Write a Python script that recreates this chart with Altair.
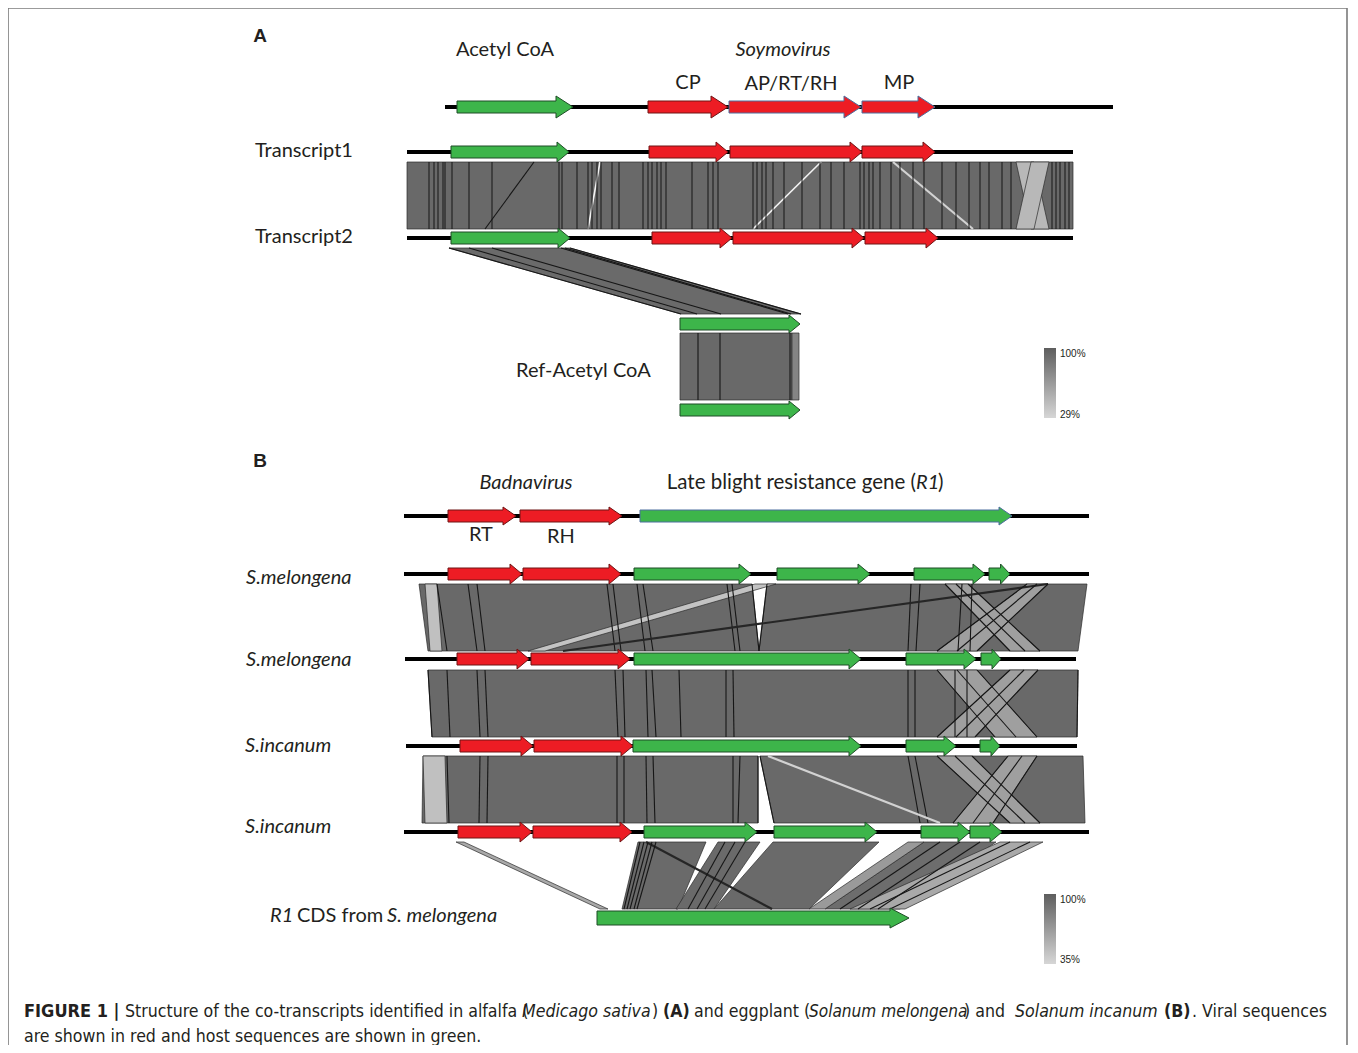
import altair as alt
import pandas as pd

# ======================= data =======================
# track names and their rows
TRACK_NAMES = ["A_ref", "T1", "T2", "RefTop", "RefBot", "B_ref", "M1", "M2", "I1", "I2", "R1"]
TRACK_ROWS = [107, 152, 238, 324, 410, 516, 574, 659, 746, 832, 918]

# sequence backbones
BACKBONE_TRACK = ["A_ref", "T1", "T2", "B_ref", "M1", "M2", "I1", "I2"]
BACKBONE_START = [445, 407, 407, 404, 404, 405, 406, 404]
BACKBONE_END = [1113, 1073, 1073, 1089, 1089, 1076, 1077, 1089]

# genes (ORFs)
GENE_TRACK = (["A_ref"] * 4 + ["T1"] * 4 + ["T2"] * 4 + ["RefTop", "RefBot"] + ["B_ref"] * 3
              + ["M1"] * 6 + ["M2"] * 5 + ["I1"] * 5 + ["I2"] * 6 + ["R1"])
GENE_START = [457, 648, 729, 862, 451, 649, 730, 862, 451, 652, 733, 865, 680, 680,
              448, 520, 640, 448, 523, 634, 777, 914, 989, 457, 531, 634, 906, 981,
              460, 534, 633, 906, 980, 458, 533, 644, 774, 921, 970, 597]
GENE_END = [573, 728, 861, 935, 569, 728, 862, 935, 570, 732, 864, 938, 800, 800,
            516, 622, 1012, 522, 621, 751, 870, 985, 1010, 529, 630, 861, 976, 1001,
            533, 633, 861, 956, 1000, 532, 632, 757, 877, 970, 1002, 909]
GENE_KIND = (["host", "viral", "viral", "viral"] * 3 + ["host", "host"]
             + ["viral", "viral", "host"]
             + ["viral", "viral", "host", "host", "host", "host"]
             + ["viral", "viral", "host", "host", "host"]
             + ["viral", "viral", "host", "host", "host"]
             + ["viral", "viral", "host", "host", "host", "host"]
             + ["host"])

# pairwise comparisons (upper track -> lower track)
CMP_NAMES = ["T1T2", "T2Ref", "RefA", "M1M2", "M2I1", "I1I2", "I2R1"]

# alignment hits: comparison, upper start/end, lower start/end, identity (%)
HIT_CMP = (["T1T2"] * 3 + ["T2Ref"] + ["RefA"] * 2 + ["M1M2"] * 6 + ["M2I1"] * 3
           + ["I1I2"] * 5 + ["I2R1"] * 7)
HIT_TOP0 = [407, 1016, 1031, 449, 680, 792, 419, 767, 425, 755, 945, 1027,
            428, 937, 1010, 423, 760, 423, 937, 1008,
            456, 638, 718, 773, 908, 924, 1000]
HIT_TOP1 = [1073, 1034, 1049, 570, 792, 799, 752, 1087, 437, 776, 968, 1048,
            1078, 977, 1038, 758, 1083, 445, 972, 1037,
            464, 706, 760, 879, 924, 996, 1043]
HIT_BOT0 = [407, 1031, 1016, 681, 680, 792, 428, 759, 430, 528, 1010, 937,
            432, 995, 937, 422, 774, 425, 1010, 953,
            600, 622, 676, 714, 809, 825, 850]
HIT_BOT1 = [1073, 1049, 1034, 801, 792, 799, 759, 1078, 442, 545, 1040, 977,
            1077, 1037, 975, 758, 1085, 447, 1040, 993,
            608, 678, 714, 809, 825, 900, 905]
HIT_IDENT = [98, 45, 45, 97, 98, 80, 98, 98, 40, 38, 62, 62,
             98, 62, 62, 98, 98, 40, 62, 62,
             55, 97, 97, 97, 65, 95, 55]

# mismatch / boundary lines inside the hits: comparison, upper x, lower x, kind
T1T2_BREAKS = [429, 434, 438, 443, 445, 452, 469, 492, 559, 562, 577, 588, 592, 597, 601,
               612, 619, 643, 648, 652, 657, 661, 666, 692, 708, 713, 718, 753, 757, 762,
               766, 773, 784, 802, 820, 831, 844, 860, 864, 869, 873, 880, 891, 900, 913,
               924, 942, 956, 969, 980, 989, 1002, 1011, 1052, 1056, 1060, 1065, 1069]
SEG_CMP = (["T1T2"] * 4 + ["T2Ref"] * 6 + ["RefA"] * 3 + ["M1M2"] * 22 + ["M2I1"] * 22
           + ["I1I2"] * 20 + ["I2R1"] * 14)
SEG_TOP = [534, 600, 821, 893,
           449, 469, 492, 561, 565, 570,
           698, 720, 790,
           437, 468, 477, 607, 613, 637, 643, 727, 732, 911, 920, 962, 972, 752, 767, 1048,
           945, 956, 968, 1027, 1037, 1048,
           447, 477, 485, 615, 623, 646, 652, 679, 726, 733, 908, 915, 955, 967, 428, 1078,
           937, 957, 977, 1010, 1024, 1038,
           447, 480, 488, 617, 624, 646, 653, 733, 740, 908, 915, 758, 760, 768,
           937, 955, 972, 1008, 1022, 1037,
           646, 640, 644, 648, 652, 656, 725, 735, 745, 940, 960, 980, 1010, 1030]
SEG_BOT = [485, 588, 753, 973,
           681, 697, 721, 788, 791, 801,
           698, 720, 790,
           447, 477, 485, 615, 621, 645, 653, 735, 740, 908, 916, 958, 970, 759, 759, 563,
           1010, 1025, 1040, 937, 957, 977,
           450, 480, 488, 618, 625, 648, 656, 681, 726, 734, 908, 915, 955, 967, 432, 1077,
           995, 1016, 1037, 937, 956, 975,
           449, 479, 487, 617, 624, 647, 655, 733, 738, 920, 928, 758, 774, 940,
           1010, 1025, 1040, 953, 973, 993,
           772, 624, 627, 630, 634, 637, 688, 697, 705, 840, 858, 878, 870, 890]
SEG_KIND = (["dark", "white", "white", "light"] + ["dark"] * 6 + ["dark"] * 3
            + ["dark"] * 15 + ["thick"] + ["dark"] * 6
            + ["dark"] * 16 + ["dark"] * 6
            + ["dark"] * 13 + ["light"] + ["dark"] * 6
            + ["thick"] + ["dark"] * 13)

# identity colour-bars
BAR_MAX = ["100%", "100%"]
BAR_MIN = ["29%", "35%"]

# ============================ layout / style ============================
W, H = 1340, 1037
XS = alt.Scale(domain=[8, 8 + W], nice=False, zero=False)
YS = alt.Scale(domain=[8, 8 + H], nice=False, zero=False, reverse=True)
ROW = dict(zip(TRACK_NAMES, TRACK_ROWS))
CMP_Y = dict(zip(CMP_NAMES, [(162, 229), (248, 314), (333, 400), (584, 651),
                             (670, 737), (756, 823), (842, 909)]))
# arrow geometry per track: shaft half height, head half height, head length
ARROW_GEOM = {"A_ref": (6, 11, 17), "T1": (6, 10, 12), "T2": (6, 10, 12),
              "RefTop": (6, 9, 11), "RefBot": (6, 9, 11), "B_ref": (6, 9, 13),
              "M1": (6, 10, 12), "M2": (6, 10, 12), "I1": (6, 10, 12), "I2": (6, 10, 12),
              "R1": (7, 10, 19)}
FILL = {"viral": "#ed1c24", "host": "#3db54a"}
EDGE = {"viral": "#6e1414", "host": "#1f4d27"}
BLUE_EDGE = "#4d6e9e"
TXT = "#231f20"
LABEL_FONT = "Lato"
CAP_FONT = "Liberation Sans Narrow, DejaVu Sans Condensed, Roboto Condensed, Liberation Sans"


def xenc(f="x"):
    return alt.X(f"{f}:Q", scale=XS, axis=None)


def yenc(f="y"):
    return alt.Y(f"{f}:Q", scale=YS, axis=None)


def grey(ident):
    v = int(round(0x66 + (100 - ident) / 71.0 * (0xd0 - 0x66)))
    v = max(0, min(255, v))
    return "#%02x%02x%02x" % (v, v, v)


# ---------- polygons: alignment hits ----------
hit_rows = []
for i, c in enumerate(HIT_CMP):
    yt, yb = CMP_Y[c]
    pts = [(HIT_TOP0[i], yt), (HIT_TOP1[i], yt), (HIT_BOT1[i], yb), (HIT_BOT0[i], yb)]
    for k, (x, y) in enumerate(pts):
        hit_rows.append(dict(pid=f"h{i}", k=k, x=x, y=y, fill=grey(HIT_IDENT[i]),
                             stroke="#2b2b2b", sw=0.7, lvl=0 if HIT_IDENT[i] >= 90 else 1))
hits = pd.DataFrame(hit_rows)

# ---------- polygons: arrows ----------
arr_rows = []
for i, t in enumerate(GENE_TRACK):
    a, b, hl = ARROW_GEOM[t]
    s, e, yc = GENE_START[i], GENE_END[i], ROW[t]
    hl = min(hl, 0.45 * (e - s))
    hs = e - hl
    pts = [(s, yc - a), (hs, yc - a), (hs, yc - b), (e, yc), (hs, yc + b), (hs, yc + a), (s, yc + a)]
    kind = GENE_KIND[i]
    edge = EDGE[kind]
    if (t == "A_ref" and s > 700) or (t == "B_ref" and kind == "host"):
        edge = BLUE_EDGE
    for k, (x, y) in enumerate(pts):
        arr_rows.append(dict(pid=f"g{i}", k=k, x=x, y=y, fill=FILL[kind], stroke=edge, sw=1.0))
arrows = pd.DataFrame(arr_rows)


def poly_layer(df):
    return alt.Chart(df).mark_line(interpolate="linear-closed", strokeJoin="miter").encode(
        x=xenc(), y=yenc(), order=alt.Order("k:Q"), detail="pid:N",
        fill=alt.Fill("fill:N", scale=None),
        stroke=alt.Stroke("stroke:N", scale=None),
        strokeWidth=alt.StrokeWidth("sw:Q", scale=None),
    )


# ---------- segments ----------
seg_rows = []
for c, xt, xb, kd in zip(SEG_CMP, SEG_TOP, SEG_BOT, SEG_KIND):
    yt, yb = CMP_Y[c]
    col, w = {"dark": ("#161616", 1.1), "white": ("#f2f2f2", 1.6),
              "light": ("#d2d2d2", 2.2), "thick": ("#262626", 2.2)}[kd]
    seg_rows.append(dict(x=xt, x2=xb, y=yt, y2=yb, col=col, w=w))
for x in T1T2_BREAKS:
    yt, yb = CMP_Y["T1T2"]
    seg_rows.append(dict(x=x, x2=x, y=yt, y2=yb, col="#161616", w=1.0))
segs = pd.DataFrame(seg_rows)

seg_layer = alt.Chart(segs).mark_rule().encode(
    x=xenc(), x2="x2:Q", y=yenc(), y2="y2:Q",
    color=alt.Color("col:N", scale=None), strokeWidth=alt.StrokeWidth("w:Q", scale=None))

# ---------- backbones ----------
bb = pd.DataFrame({"x": BACKBONE_START, "x2": BACKBONE_END,
                   "y": [ROW[t] for t in BACKBONE_TRACK]})
bb_layer = alt.Chart(bb).mark_rule(color="#000000", strokeWidth=4).encode(
    x=xenc(), x2="x2:Q", y=yenc())

# ---------- frame ----------
frame = pd.DataFrame({"x": [8, 8, 8 + W - 1], "x2": [8 + W - 1, 8, 8 + W - 1],
                      "y": [8, 8, 8], "y2": [8, 8 + H, 8 + H]})
frame_layer = alt.Chart(frame).mark_rule(color="#7a7a7a", strokeWidth=1.6).encode(
    x=xenc(), x2="x2:Q", y=yenc(), y2="y2:Q")

# ---------- identity bars ----------
bars = pd.DataFrame({"x": [1044, 1044], "x2": [1056, 1056], "y": [348, 894], "y2": [418, 964]})
grad = {"gradient": "linear", "x1": 0, "y1": 0, "x2": 0, "y2": 1,
        "stops": [{"offset": 0, "color": "#5e5e5e"}, {"offset": 1, "color": "#d6d6d6"}]}
bar_layer = alt.Chart(bars).mark_rect(fill=grad).encode(
    x=xenc(), x2="x2:Q", y=yenc(), y2="y2:Q")

# ---------- texts ----------
texts = [
    # text, x, y, font, size, style, weight, align
    ("A", 260, 36, "Liberation Sans", 19, "normal", "bold", "center"),
    ("B", 260, 461, "Liberation Sans", 19, "normal", "bold", "center"),
    ("Acetyl CoA", 505, 50, LABEL_FONT, 20, "normal", "normal", "center"),
    ("Soymovirus", 783, 50, LABEL_FONT, 20, "italic", "normal", "center"),
    ("CP", 688, 83, LABEL_FONT, 20, "normal", "normal", "center"),
    ("AP/RT/RH", 791, 84, LABEL_FONT, 20, "normal", "normal", "center"),
    ("MP", 899, 83, LABEL_FONT, 20, "normal", "normal", "center"),
    ("Transcript1", 255, 151, LABEL_FONT, 20, "normal", "normal", "left"),
    ("Transcript2", 255, 237, LABEL_FONT, 20, "normal", "normal", "left"),
    ("Ref-Acetyl CoA", 516, 371, LABEL_FONT, 20, "normal", "normal", "left"),
    ("Badnavirus", 526, 483, LABEL_FONT, 20, "italic", "normal", "center"),
    ("Late blight resistance gene (", 916, 483, LABEL_FONT, 20.5, "normal", "normal", "right"),
    ("R1", 916, 483, LABEL_FONT, 20, "italic", "normal", "left"),
    (")", 938, 483, LABEL_FONT, 20.5, "normal", "normal", "left"),
    ("RT", 481, 535, LABEL_FONT, 20, "normal", "normal", "center"),
    ("RH", 561, 537, LABEL_FONT, 20, "normal", "normal", "center"),
    ("S.melongena", 246, 578, LABEL_FONT, 20, "italic", "normal", "left"),
    ("S.melongena", 246, 660, LABEL_FONT, 20, "italic", "normal", "left"),
    ("S.incanum", 245, 746, LABEL_FONT, 20, "italic", "normal", "left"),
    ("S.incanum", 245, 827, LABEL_FONT, 20, "italic", "normal", "left"),
    ("R1", 270, 916, LABEL_FONT, 20, "italic", "normal", "left"),
    ("CDS from", 297, 916, LABEL_FONT, 20, "normal", "normal", "left"),
    ("S. melongena", 387, 916, LABEL_FONT, 20, "italic", "normal", "left"),
    (BAR_MAX[0], 1060, 354, "Liberation Sans", 10, "normal", "normal", "left"),
    (BAR_MIN[0], 1060, 415, "Liberation Sans", 10, "normal", "normal", "left"),
    (BAR_MAX[1], 1060, 900, "Liberation Sans", 10, "normal", "normal", "left"),
    (BAR_MIN[1], 1060, 960, "Liberation Sans", 10, "normal", "normal", "left"),
    # caption
    ("FIGURE 1 |", 24, 1012, CAP_FONT, 18, "normal", "bold", "left"),
    ("Structure of the co-transcripts identified in alfalfa (", 125, 1012, CAP_FONT, 17.6, "normal", "normal", "left"),
    ("Medicago sativa", 522, 1012, CAP_FONT, 17.6, "italic", "normal", "left"),
    (")", 652, 1012, CAP_FONT, 17.6, "normal", "normal", "left"),
    ("(A)", 663, 1012, CAP_FONT, 17.6, "normal", "bold", "left"),
    ("and eggplant (", 694, 1012, CAP_FONT, 17.6, "normal", "normal", "left"),
    ("Solanum melongena", 809, 1012, CAP_FONT, 17.1, "italic", "normal", "left"),
    (") and", 964, 1012, CAP_FONT, 17.6, "normal", "normal", "left"),
    ("Solanum incanum", 1015, 1012, CAP_FONT, 17.6, "italic", "normal", "left"),
    ("(B)", 1164, 1012, CAP_FONT, 17.6, "normal", "bold", "left"),
    (". Viral sequences", 1192, 1012, CAP_FONT, 17.6, "normal", "normal", "left"),
    ("are shown in red and host sequences are shown in green.", 24, 1037, CAP_FONT, 17.6, "normal", "normal", "left"),
]
tdf = pd.DataFrame(texts, columns=["t", "x", "y", "font", "size", "style", "weight", "align"])
text_layers = []
for (font, size, style, weight, align), g in tdf.groupby(["font", "size", "style", "weight", "align"]):
    text_layers.append(
        alt.Chart(g[["t", "x", "y"]]).mark_text(
            font=font, fontSize=float(size), fontStyle=style, fontWeight=weight,
            align=align, baseline="middle", color=TXT
        ).encode(x=xenc(), y=yenc(), text="t:N")
    )

layers = [frame_layer, bb_layer,
          poly_layer(hits[hits.lvl == 0]), poly_layer(hits[hits.lvl == 1]),
          seg_layer, poly_layer(arrows), bar_layer] + text_layers

chart = alt.layer(*layers).properties(
    width=W, height=H, padding=0, autosize=alt.AutoSizeParams(type="none")
).configure_view(stroke=None)

chart.save("out.html", embed_options={"renderer": "svg", "actions": False})
